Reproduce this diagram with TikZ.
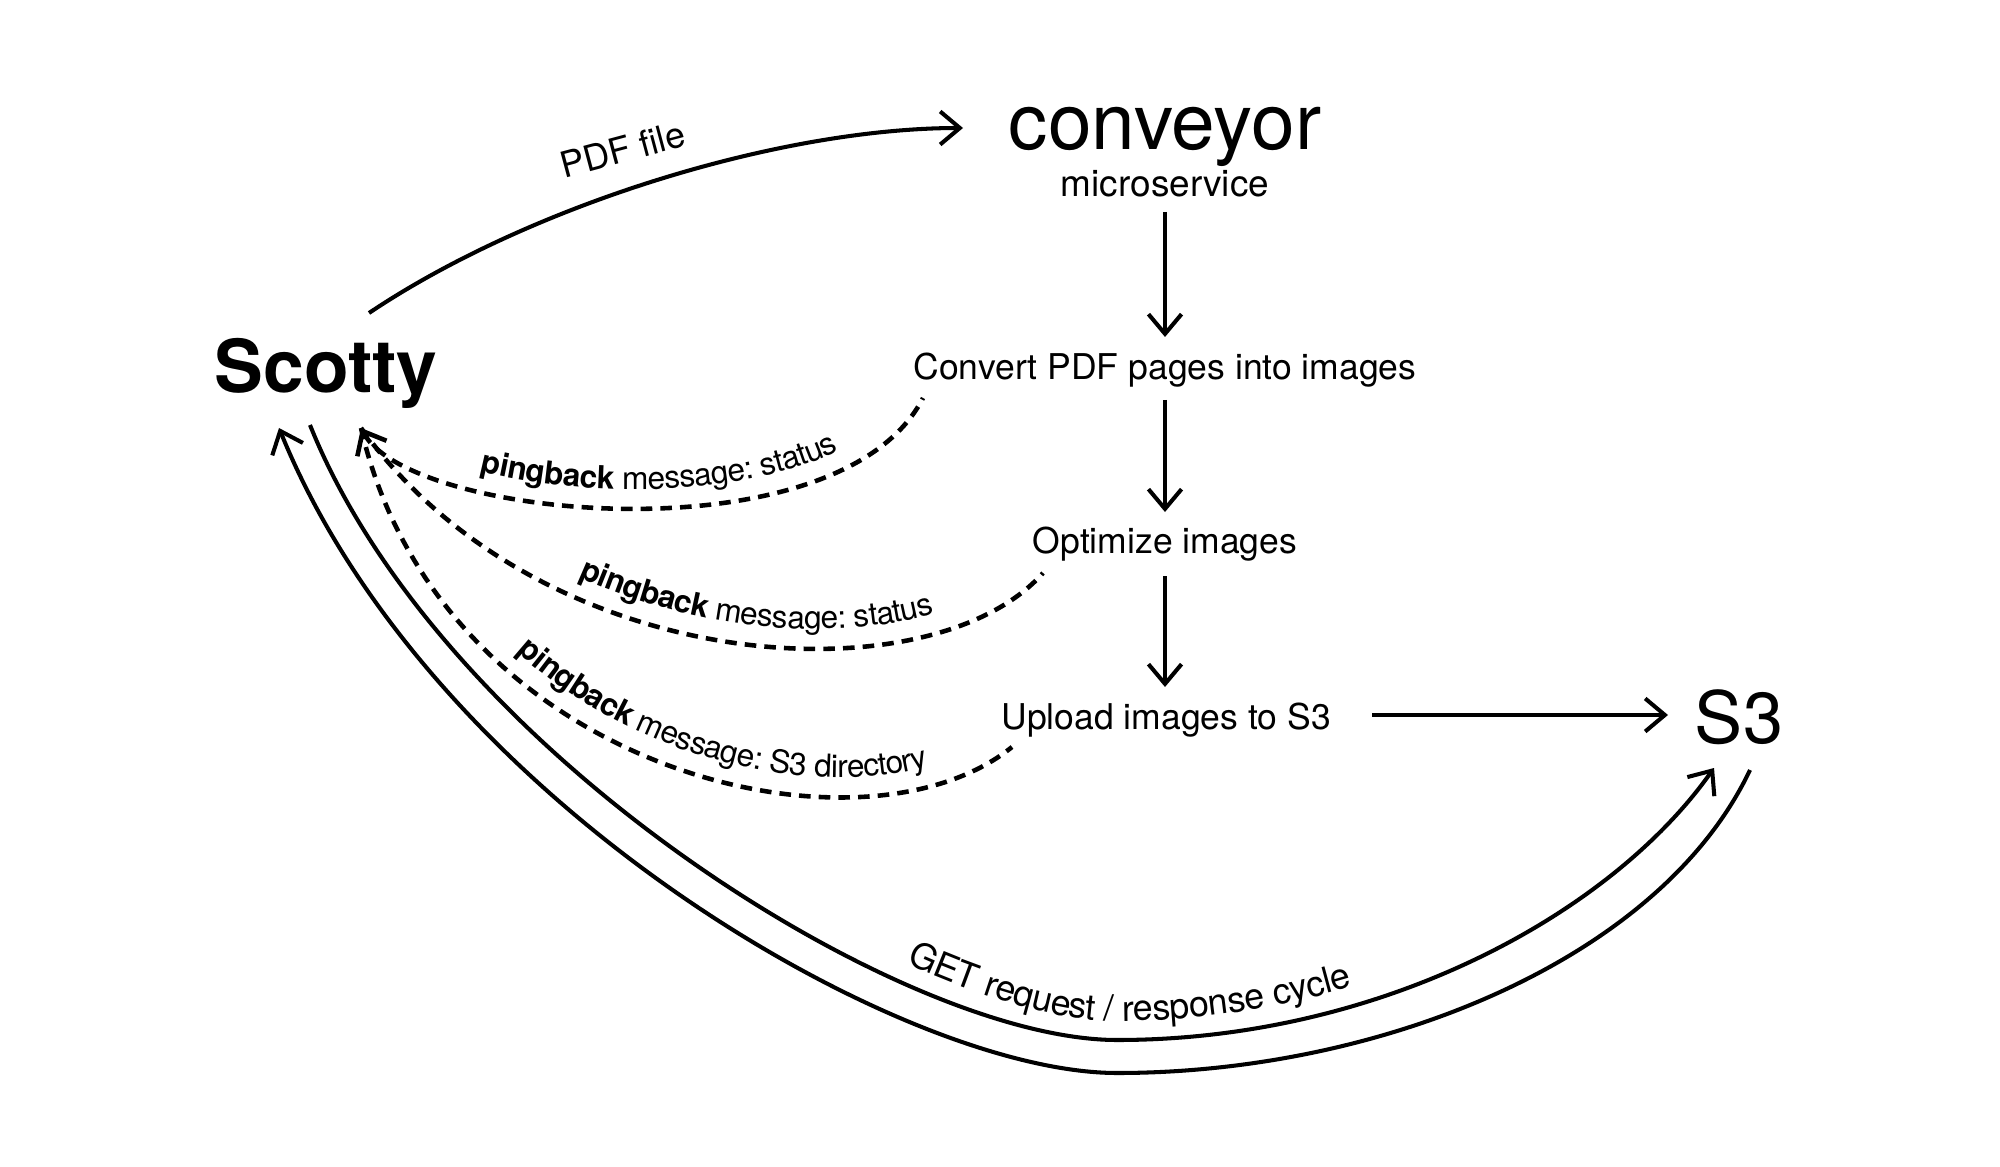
\documentclass[tikz,border=0pt]{standalone}
\usepackage{fontspec}
\setmainfont{TeX Gyre Heros}
\usetikzlibrary{arrows.meta,decorations.text}
\newcommand\convfont{\fontsize{22.3pt}{26pt}\selectfont}
\newcommand\scotfont{\fontsize{20.8pt}{25pt}\selectfont\bfseries}
\newcommand\sthrfont{\fontsize{20.5pt}{25pt}\selectfont}
\newcommand\stepfont{\fontsize{10.1pt}{12pt}\selectfont}
\newcommand\microfont{\fontsize{10.5pt}{12pt}\selectfont}
\newcommand\lblfont{\fontsize{10.2pt}{12pt}\selectfont}
\newcommand\pingfont{\fontsize{9pt}{11pt}\selectfont}
\begin{document}
\begin{tikzpicture}[x=0.01cm, y=-0.01cm,
  txt/.style={inner sep=0pt, anchor=base},
  conn/.style={line width=1.15pt, -{Straight Barb[length=5.6pt,width=9.4pt]}},
  ping/.style={line width=1.3pt, dash pattern=on 3.3pt off 2.3pt},
  pingtip/.style={{Straight Barb[length=5.6pt,width=9.4pt]}-}
]
\path[use as bounding box] (0,0) rectangle (2000,1167);

% nodes
\node[txt, font=\scotfont] (scotty) at (326,393) {Scotty};
\node[txt, font=\convfont] (conveyor) at (1165,150) {conveyor};
\node[txt, font=\microfont] (micro) at (1165,197) {microservice};
\node[txt, font=\stepfont] (convert) at (1165,380) {Convert PDF pages into images};
\node[txt, font=\stepfont] (optimize) at (1165,554) {Optimize images};
\node[txt, font=\stepfont] (upload) at (1166,729) {Upload images to S3};
\node[txt, font=\sthrfont] (s3) at (1739,743) {S3};
\node[txt, font=\lblfont, rotate=15] (pdflbl) at (626,162) {PDF file};

% PDF file
\draw[conn] ([shift={(43,-80)}]scotty.base) .. controls (530,205) and (780,128) .. ([shift={(-202,-22)}]conveyor.base);

% pipeline
\draw[conn] ([shift={(0,15)}]micro.base) -- ([shift={(0,-43)}]convert.base);
\draw[conn] ([shift={(0,20)}]convert.base) -- ([shift={(0,-42)}]optimize.base);
\draw[conn] ([shift={(0,22)}]optimize.base) -- ([shift={(-1,-42)}]upload.base);
\draw[conn] ([shift={(206,-14)}]upload.base) -- ([shift={(-71,-28)}]s3.base);

% pingbacks
\draw[ping, pingtip,
  postaction={draw=none, decorate, decoration={text along path, raise=0.19cm,
    text align={center, left indent=0.28cm},
    text={|\pingfont\bfseries|pingback|\pingfont| message: status}}}]
  ([shift={(35,35)}]scotty.base) .. controls (410,520) and (840,560) .. ([shift={(-242,18)}]convert.base);
\draw[ping,
  postaction={draw=none, decorate, decoration={text along path, raise=0.2cm,
    text align={center, left indent=1.5cm},
    text={|\pingfont\bfseries|pingback|\pingfont| message: status}}}]
  ([shift={(35,35)}]scotty.base) .. controls (541,678) and (930,700) .. ([shift={(-122,19)}]optimize.base);
\draw[ping,
  postaction={draw=none, decorate, decoration={text along path, raise=0.2cm,
    text align={center, left indent=1.94cm},
    text={|\pingfont\bfseries|pingback|\pingfont| message: S3 directory}}}]
  ([shift={(35,35)}]scotty.base) .. controls (440,770) and (860,870) .. ([shift={(-154,18)}]upload.base);

% GET request / response cycle
\draw[conn,
  postaction={draw=none, decorate, decoration={text along path, raise=0.19cm,
    text align={center, left indent=3.92cm},
    text={|\lblfont|GET request / response cycle}}}]
  ([shift={(-16,32)}]scotty.base) .. controls (440,750) and (900,1040) .. (1117,1040)
  .. controls (1380,1040) and (1610,915) .. ([shift={(-25,25)}]s3.base);
\draw[conn] ([shift={(11,27)}]s3.base) .. controls (1660,960) and (1380,1073) .. (1117,1073)
  .. controls (900,1073) and (430,800) .. ([shift={(-47,35)}]scotty.base);
\end{tikzpicture}
\end{document}
